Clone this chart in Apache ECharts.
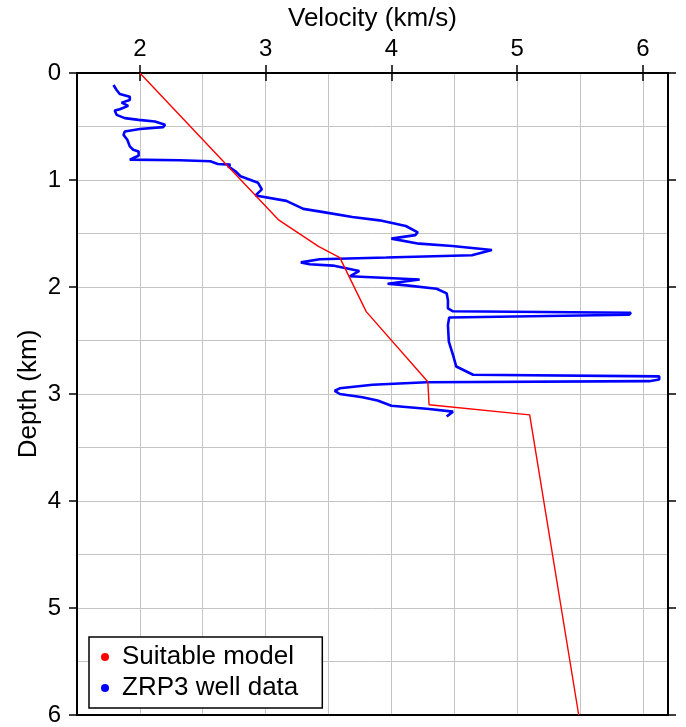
<!DOCTYPE html>
<html>
<head>
<meta charset="utf-8">
<script src="https://cdn.jsdelivr.net/npm/echarts@6/dist/echarts.min.js"></script>
<style>
  html, body { margin: 0; padding: 0; background: #fff; }
  #chart { width: 686px; height: 727px; }
</style>
</head>
<body>
<div id="chart"></div>
<script>
// Velocity model vs. well log, depth increasing downwards
const FONT = '"Liberation Sans", Arial, Helvetica, sans-serif';

const velocityTicks = [2, 3, 4, 5, 6];
const depthTicks = [0, 1, 2, 3, 4, 5, 6];

// Suitable model (km/s, km)
const modelVelocity = [2.00, 3.10, 3.42, 3.59, 3.80, 4.29, 4.30, 5.10, 5.49];
const modelDepth    = [0.00, 1.37, 1.62, 1.725, 2.23, 2.885, 3.10, 3.195, 6.00];

// ZRP3 well log (km/s, km)
const wellVelocity = [
  1.79, 1.815, 1.84, 1.92, 1.92, 1.855, 1.907, 1.84, 1.80, 1.815,
  1.88, 1.99, 2.12, 2.20, 2.185, 2.00, 1.88, 1.87, 1.90, 1.92,
  1.947, 1.99, 1.99, 1.947, 1.92, 2.32, 2.56, 2.62, 2.72, 2.70,
  2.76, 2.80, 2.94, 2.97, 2.92, 3.165, 3.30, 3.46, 3.69, 3.905,
  4.115, 4.21, 4.19, 4.00, 4.22, 4.485, 4.80, 4.64, 3.96, 3.43,
  3.28, 3.35, 3.535, 3.745, 3.67, 4.225, 3.97, 4.12, 4.36, 4.44,
  4.45, 4.45, 4.49, 5.905, 5.89, 4.46, 4.45, 4.457, 4.49, 4.516,
  4.65, 6.13, 6.13, 6.05, 4.28, 3.85, 3.59, 3.55, 3.59, 3.77,
  3.89, 4.00, 4.30, 4.49, 4.44
];
const wellDepth = [
  0.112, 0.159, 0.196, 0.221, 0.252, 0.277, 0.307, 0.338, 0.351, 0.391,
  0.422, 0.438, 0.453, 0.484, 0.506, 0.524, 0.547, 0.578, 0.624, 0.686,
  0.717, 0.733, 0.773, 0.795, 0.810, 0.816, 0.825, 0.850, 0.856, 0.870,
  0.918, 0.965, 1.026, 1.088, 1.144, 1.195, 1.270, 1.300, 1.345, 1.377,
  1.430, 1.490, 1.515, 1.548, 1.595, 1.617, 1.654, 1.703, 1.725, 1.740,
  1.770, 1.787, 1.800, 1.850, 1.900, 1.930, 1.970, 1.985, 2.016, 2.060,
  2.125, 2.200, 2.227, 2.240, 2.260, 2.285, 2.356, 2.510, 2.635, 2.743,
  2.820, 2.835, 2.865, 2.880, 2.890, 2.914, 2.947, 2.970, 3.000, 3.030,
  3.060, 3.110, 3.140, 3.165, 3.210
];

const zip = (xs, ys) => xs.map((x, i) => [x, ys[i]]);

const frameLine = { show: true, onZero: false, lineStyle: { color: '#000', width: 2 } };
const tickStyle = { color: '#000', width: 1.5 };
const gridStyle = { color: '#c4c4c4', width: 1 };

const chart = echarts.init(document.getElementById('chart'), null, { renderer: 'canvas' });

chart.setOption({
  backgroundColor: '#fff',
  animation: false,
  grid: { left: 77, right: 18, top: 73, bottom: 9, containLabel: false },
  xAxis: [
    { // carries the half-unit grid and the bottom frame edge
      type: 'value', position: 'bottom', min: 1.5, max: 6.2, interval: 0.5,
      axisLine: frameLine,
      axisTick: { show: false },
      axisLabel: { show: false },
      splitLine: { show: true, lineStyle: gridStyle }
    },
    { // labelled top axis
      type: 'value', position: 'top', min: 1.5, max: 6.2,
      name: 'Velocity (km/s)', nameLocation: 'middle', nameGap: 41,
      nameMoveOverlap: false,
      nameTextStyle: { fontFamily: FONT, fontSize: 26, color: '#000' },
      axisLine: frameLine,
      axisTick: { show: true, inside: false, length: 8, customValues: velocityTicks, lineStyle: tickStyle },
      axisLabel: { show: true, customValues: velocityTicks, margin: 12, fontFamily: FONT, fontSize: 24, color: '#000' },
      splitLine: { show: false }
    },
    { // bottom ticks without labels
      type: 'value', position: 'bottom', min: 1.5, max: 6.2,
      axisLine: { show: false },
      axisTick: { show: true, inside: false, length: 8, customValues: velocityTicks, lineStyle: tickStyle },
      axisLabel: { show: false },
      splitLine: { show: false }
    }
  ],
  yAxis: [
    {
      type: 'value', position: 'left', inverse: true, min: 0, max: 6, interval: 1,
      name: 'Depth (km)', nameLocation: 'middle', nameGap: 35, nameRotate: 90,
      nameMoveOverlap: false,
      nameTextStyle: { fontFamily: FONT, fontSize: 26, color: '#000' },
      axisLine: frameLine,
      axisTick: { show: true, inside: false, length: 8, customValues: depthTicks, lineStyle: tickStyle },
      axisLabel: { show: true, customValues: depthTicks, margin: 16, fontFamily: FONT, fontSize: 24, color: '#000' },
      splitLine: { show: true, lineStyle: gridStyle },
      minorTick: { show: false, splitNumber: 2 },
      minorSplitLine: { show: true, lineStyle: gridStyle }
    },
    {
      type: 'value', position: 'right', inverse: true, min: 0, max: 6, interval: 1,
      axisLine: frameLine,
      axisTick: { show: true, inside: false, length: 8, customValues: depthTicks, lineStyle: tickStyle },
      axisLabel: { show: false },
      splitLine: { show: false }
    }
  ],
  legend: {
    left: 89, top: 637, orient: 'vertical',
    icon: 'circle', itemWidth: 24, itemHeight: 8, itemGap: 5,
    padding: [7, 24, 7, 12],
    backgroundColor: '#fff', borderColor: '#000', borderWidth: 1.5, borderRadius: 0,
    textStyle: { fontFamily: FONT, fontSize: 26, color: '#000' },
    data: ['Suitable model', 'ZRP3 well data']
  },
  series: [
    {
      name: 'ZRP3 well data', type: 'line', xAxisIndex: 0, yAxisIndex: 0,
      data: zip(wellVelocity, wellDepth),
      showSymbol: false, symbol: 'none', smooth: false,
      lineStyle: { color: '#0000ff', width: 2.6 },
      itemStyle: { color: '#0000ff' },
      z: 3
    },
    {
      name: 'Suitable model', type: 'line', xAxisIndex: 0, yAxisIndex: 0,
      data: zip(modelVelocity, modelDepth),
      showSymbol: false, symbol: 'none', smooth: false,
      lineStyle: { color: '#ff0000', width: 1.4 },
      itemStyle: { color: '#ff0000' },
      z: 4
    }
  ]
});
</script>
</body>
</html>
